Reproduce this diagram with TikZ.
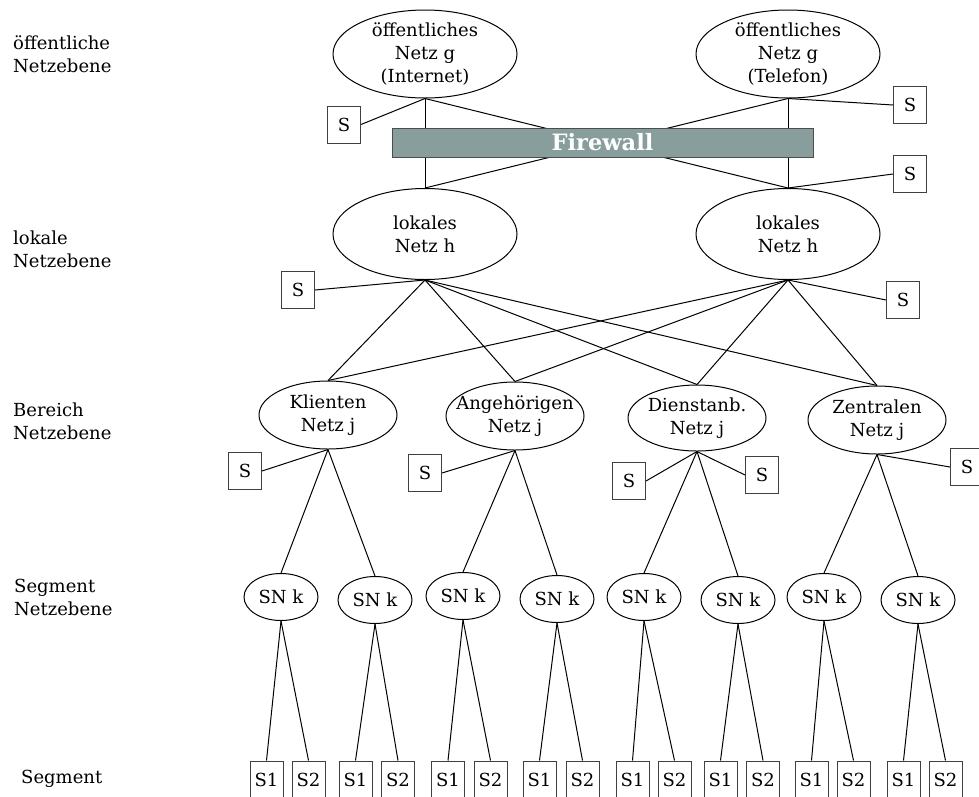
\documentclass[tikz,border=0pt]{standalone}
\usepackage{fontspec}
\setmainfont{DejaVu Serif}
\usetikzlibrary{shapes.geometric}
\definecolor{fwgray}{HTML}{879E9C}
\begin{document}
\begin{tikzpicture}[x=1pt,y=-1pt,
  every node/.style={font=\fontsize{18}{23}\selectfont},
  net/.style n args={2}{ellipse, draw, line width=1pt, inner sep=0pt,
    minimum width=#1, minimum height=#2},
  txt/.style={align=center, inner sep=0pt},
  lvl/.style={align=left, anchor=west, inner sep=0pt},
  sbox/.style={draw=black!75, line width=1pt, inner sep=0pt,
    minimum width=33pt, minimum height=37pt},
  link/.style={line width=1pt}]
\useasboundingbox (0,0) rectangle (979,796);

% level labels
\node[lvl] (l1) at (13,54) {öffentliche\\Netzebene};
\node[lvl] (l2) at (13,249) {lokale\\Netzebene};
\node[lvl] (l3) at (13,421) {Bereich\\Netzebene};
\node[lvl] (l4) at (14,597) {Segment\\Netzebene};
\node[lvl] (l5) at (21,779) {Segment};

% public networks
\node[net={184}{88}] (inet) at (425,54) {};
\node[txt] at (inet) {öffentliches\\Netz g\\(Internet)};
\node[net={184}{88}] (tel) at (788,54) {};
\node[txt] at (tel) {öffentliches\\Netz g\\(Telefon)};

% local networks
\node[net={184}{91}] (lok1) at (425,234) {};
\node[txt] at (lok1) {lokales\\Netz h};
\node[net={184}{91}] (lok2) at (788,234) {};
\node[txt] at (lok2) {lokales\\Netz h};

% links through the firewall
\draw[link] (inet.south) -- (lok1.north);
\draw[link] (inet.south) -- (lok2.north);
\draw[link] (tel.south) -- (lok2.north);
\draw[link] (tel.south) -- (lok1.north);

% firewall bar on top of the links
\node[draw=black!70, fill=fwgray, line width=1pt, minimum width=421pt,
  minimum height=29pt, inner sep=0pt, text=white,
  font=\fontsize{22.5}{25}\selectfont\bfseries] (fw) at (602.5,142.5) {Firewall};

% area networks
\node[net={138}{68}] (kli) at (328,415) {};
\node[txt] at (kli) {Klienten\\Netz j};
\node[net={138}{68}] (ang) at (515,416) {};
\node[txt] at (ang) {Angehörigen\\Netz j};
\node[net={138}{66}] (die) at (697,418) {};
\node[txt] at (die) {Dienstanb.\\Netz j};
\node[net={138}{68}] (zen) at (877,420) {};
\node[txt] at (zen) {Zentralen\\Netz j};

\foreach \a in {lok1,lok2}
  \foreach \b in {kli,ang,die,zen}
    \draw[link] (\a.south) -- (\b.north);

% servers
\node[sbox] (s1) at (344,124.5) {S};
\node[sbox] (s2) at (910,105) {S};
\node[sbox] (s3) at (910,174) {S};
\node[sbox] (s4) at (298,290) {S};
\node[sbox] (s5) at (903,300) {S};
\node[sbox] (s6) at (245,471) {S};
\node[sbox] (s7) at (425,473) {S};
\node[sbox] (s8) at (629,481) {S};
\node[sbox] (s9) at (762,475) {S};
\node[sbox] (s10) at (967,467) {S};
\draw[link] (s1.east) -- (inet.south);
\draw[link] (s2.west) -- (tel.south);
\draw[link] (s3.west) -- (lok2.north);
\draw[link] (s4.east) -- (lok1.south);
\draw[link] (s5.west) -- (lok2.south);
\draw[link] (s6.east) -- (kli.south);
\draw[link] (s7.east) -- (ang.south);
\draw[link] (s8.east) -- (die.south);
\draw[link] (s9.west) -- (die.south);
\draw[link] (s10.west) -- (zen.south);

% segment networks and segments
\foreach \i/\x/\y/\p/\ua/\ub in {
    1/281/597/kli/266.5/308.5,
    2/375/600/kli/355.5/398,
    3/463/596/ang/448/490.5,
    4/557/599/ang/539.5/582.5,
    5/644/597/die/632.5/674.5,
    6/738/600/die/720.5/763,
    7/824/597/zen/811.5/853.5,
    8/918/600/zen/903.5/945.5} {
  \node[net={74}{47}] (sn\i) at (\x,\y) {};
  \node[txt] at (sn\i) {SN k};
  \draw[link] (\p.south) -- (sn\i.north);
  \node[sbox] (sa\i) at (\ua,779.5) {S1};
  \node[sbox] (sb\i) at (\ub,779.5) {S2};
  \draw[link] (sn\i.south) -- (sa\i.north);
  \draw[link] (sn\i.south) -- (sb\i.north);
}
\end{tikzpicture}
\end{document}
